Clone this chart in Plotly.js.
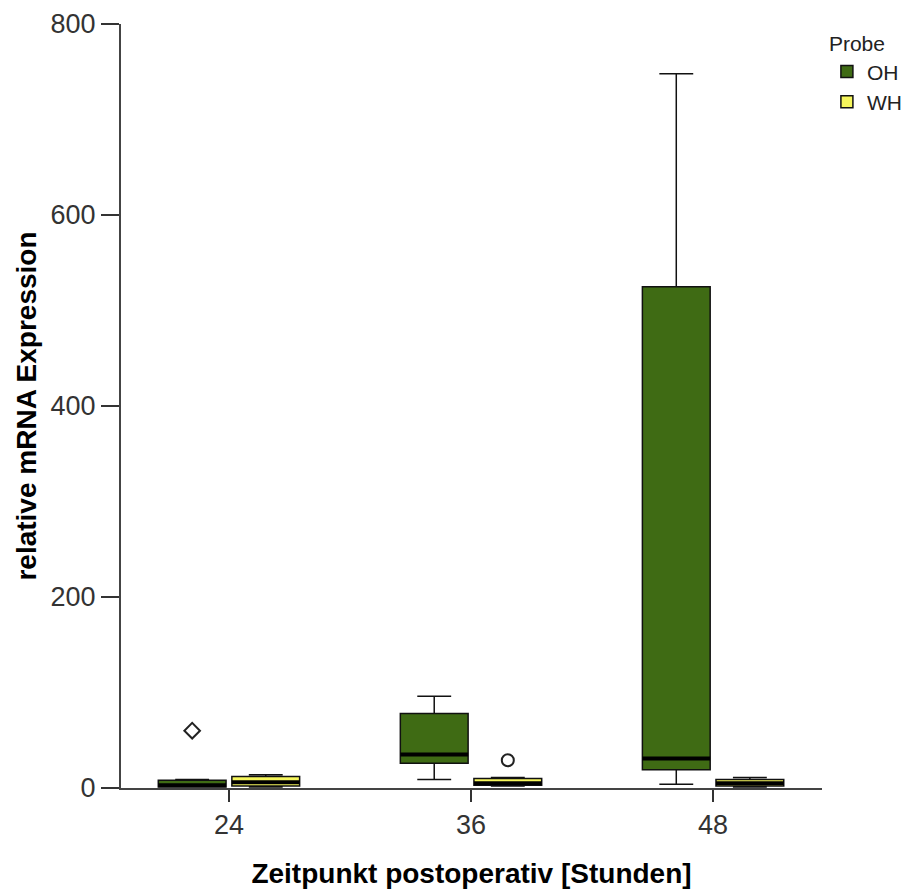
<!DOCTYPE html>
<html>
<head>
<meta charset="utf-8">
<script src="https://cdn.plot.ly/plotly-3.0.1.min.js"></script>
<style>
  html, body { margin: 0; padding: 0; background: #ffffff; }
  #chart { width: 901px; height: 889px; }
</style>
</head>
<body>
<div id="chart"></div>
<script>
// Time points after surgery (hours)
const categories = ["24", "36", "48"];

// OH samples: five-number summaries per time point
const ohLower  = [1, 9, 4];
const ohQ1     = [1, 26, 19];
const ohMedian = [3, 35, 31];
const ohQ3     = [8, 78, 525];
const ohUpper  = [9, 96, 748];

// WH samples: five-number summaries per time point
const whLower  = [1, 2, 1];
const whQ1     = [2, 3, 2];
const whMedian = [6, 5, 5];
const whQ3     = [12, 10, 9];
const whUpper  = [14, 11, 11];

// Outliers: [category index, value]
const ohExtremes = [[0, 60]];   // drawn as diamonds
const whOutliers = [[1, 29]];   // drawn as circles

const OFFSET = 0.152;
const BOX_W = 0.28;
const ohX = categories.map((c, i) => i - OFFSET);
const whX = categories.map((c, i) => i + OFFSET);

const boxLine = { color: "#111111", width: 1.5 };

function medianSegments(xs, meds) {
  const x = [], y = [];
  xs.forEach((cx, i) => {
    x.push(cx - BOX_W / 2, cx + BOX_W / 2, null);
    y.push(meds[i], meds[i], null);
  });
  return { x, y };
}
const ohMed = medianSegments(ohX, ohMedian);
const whMed = medianSegments(whX, whMedian);

const traces = [
  {
    type: "box", name: "OH", x: ohX,
    q1: ohQ1, median: ohMedian, q3: ohQ3,
    lowerfence: ohLower, upperfence: ohUpper,
    width: BOX_W, whiskerwidth: 0.5,
    fillcolor: "#3f6b14", line: boxLine,
    boxpoints: false, hoverinfo: "skip"
  },
  {
    type: "box", name: "WH", x: whX,
    q1: whQ1, median: whMedian, q3: whQ3,
    lowerfence: whLower, upperfence: whUpper,
    width: BOX_W, whiskerwidth: 0.5,
    fillcolor: "#f6f65c", line: boxLine,
    boxpoints: false, hoverinfo: "skip"
  },
  {
    type: "scatter", mode: "lines", x: ohMed.x, y: ohMed.y,
    line: { color: "#000000", width: 4 }, showlegend: false, hoverinfo: "skip"
  },
  {
    type: "scatter", mode: "lines", x: whMed.x, y: whMed.y,
    line: { color: "#000000", width: 4 }, showlegend: false, hoverinfo: "skip"
  },
  {
    type: "scatter", mode: "markers",
    x: ohExtremes.map(p => p[0] - OFFSET), y: ohExtremes.map(p => p[1]),
    marker: { symbol: "diamond-open", size: 12, color: "#222222", line: { width: 2 } },
    showlegend: false, hoverinfo: "skip"
  },
  {
    type: "scatter", mode: "markers",
    x: whOutliers.map(p => p[0] + OFFSET), y: whOutliers.map(p => p[1]),
    marker: { symbol: "circle-open", size: 12, color: "#222222", line: { width: 2 } },
    showlegend: false, hoverinfo: "skip"
  }
];

const layout = {
  width: 901, height: 889,
  margin: { l: 121, r: 79, t: 24, b: 101, autoexpand: false },
  paper_bgcolor: "#ffffff", plot_bgcolor: "#ffffff",
  font: { family: "Liberation Sans, Arial, sans-serif", color: "#333333" },
  boxmode: "overlay",
  showlegend: true,
  legend: {
    title: { text: "Probe", font: { size: 21, color: "#222222" } },
    font: { size: 21, color: "#222222" },
    x: 1.007, xanchor: "left", y: 1.0, yanchor: "top",
    bgcolor: "rgba(0,0,0,0)", tracegroupgap: 2, itemwidth: 30
  },
  xaxis: {
    range: [-0.446, 2.45],
    tickmode: "array", tickvals: categories.map((c, i) => i), ticktext: categories,
    ticks: "outside", ticklen: 12, tickwidth: 2, tickcolor: "#333333",
    showline: true, linecolor: "#444444", linewidth: 2,
    showgrid: false, zeroline: false,
    tickfont: { size: 27, color: "#333333" },
    title: { text: "Zeitpunkt postoperativ [Stunden]", standoff: 25,
             font: { size: 28, color: "#000000", family: "Liberation Sans, Arial, sans-serif", weight: "bold" } }
  },
  yaxis: {
    range: [0, 800],
    tickvals: [0, 200, 400, 600, 800],
    ticks: "outside", ticklen: 18, tickwidth: 2, tickcolor: "#333333",
    showline: true, linecolor: "#444444", linewidth: 2,
    showgrid: false, zeroline: false,
    tickfont: { size: 27, color: "#333333" },
    title: { text: "relative mRNA Expression", standoff: 6,
             font: { size: 28, color: "#000000", family: "Liberation Sans, Arial, sans-serif", weight: "bold" } }
  }
};

Plotly.newPlot("chart", traces, layout, { displayModeBar: false, staticPlot: true });
</script>
</body>
</html>
